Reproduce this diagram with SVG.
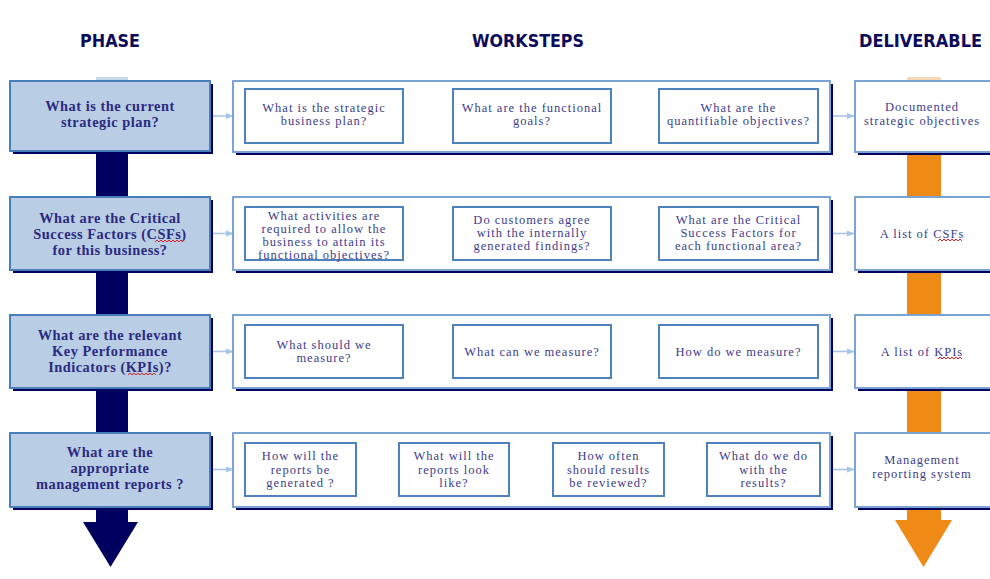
<svg xmlns="http://www.w3.org/2000/svg" width="990" height="579" viewBox="0 0 990 579">
<defs>
<style>
.hdr{font-family:"DejaVu Sans Condensed","DejaVu Sans",sans-serif;font-weight:bold;font-size:17px;fill:#0c0c5c}
.ph{fill:#b9cde5;stroke:#4a7ebb;stroke-width:2}
.sh{fill:#00005e}
.pt{font-family:"Liberation Serif",serif;font-weight:bold;font-size:14.4px;letter-spacing:0.5px;fill:#2a2a80;text-anchor:middle}
.ct{fill:#ffffff;stroke:#7ba3d4;stroke-width:2}
.ib{fill:#ffffff;stroke:#4f81bd;stroke-width:2}
.wt{font-family:"Liberation Serif",serif;font-size:12.5px;letter-spacing:1px;fill:#3c3c8c;text-anchor:middle}
.cn{stroke:#a8c6e4;stroke-width:1.6;fill:none;marker-end:url(#ah)}
.sq{stroke:#e02020;stroke-width:1;fill:none}
</style>
<marker id="ah" markerWidth="8" markerHeight="8" refX="7" refY="4" orient="auto" markerUnits="userSpaceOnUse">
<path d="M0,1 L8,4 L0,7 Z" fill="#a8c6e4"/>
</marker>
</defs>
<rect width="990" height="579" fill="#ffffff"/>

<g id="headers">
<text class="hdr" x="80" y="47" textLength="60" lengthAdjust="spacingAndGlyphs">PHASE</text>
<text class="hdr" x="472" y="47" textLength="112" lengthAdjust="spacingAndGlyphs">WORKSTEPS</text>
<text class="hdr" x="859" y="47" textLength="123" lengthAdjust="spacingAndGlyphs">DELIVERABLE</text>
</g>

<g id="phase-arrow">
<rect x="96" y="77" width="32" height="6" fill="#c8d8ec"/>
<rect x="96" y="150" width="32" height="373" fill="#00005e"/>
<path d="M83,522 L138,522 L110.5,567 Z" fill="#00005e"/>
</g>
<g id="deliverable-arrow">
<rect x="907" y="77" width="34" height="6" fill="#f6d8b4"/>
<rect x="907" y="150" width="34" height="371" fill="#ef8a16"/>
<path d="M895,520 L952,520 L923.5,567 Z" fill="#ef8a16"/>
</g>

<g id="connectors">
<line class="cn" x1="213" y1="116" x2="233" y2="116"/>
<line class="cn" x1="403" y1="116" x2="452" y2="116"/>
<line class="cn" x1="611" y1="116" x2="658" y2="116"/>
<line class="cn" x1="833" y1="116" x2="854" y2="116"/>

<line class="cn" x1="213" y1="233.5" x2="233" y2="233.5"/>
<line class="cn" x1="403" y1="233.5" x2="452" y2="233.5"/>
<line class="cn" x1="611" y1="233.5" x2="658" y2="233.5"/>
<line class="cn" x1="833" y1="233.5" x2="854" y2="233.5"/>

<line class="cn" x1="213" y1="351.5" x2="233" y2="351.5"/>
<line class="cn" x1="403" y1="351.5" x2="452" y2="351.5"/>
<line class="cn" x1="611" y1="351.5" x2="658" y2="351.5"/>
<line class="cn" x1="833" y1="351.5" x2="854" y2="351.5"/>

<line class="cn" x1="213" y1="469.5" x2="233" y2="469.5"/>
<line class="cn" x1="356" y1="469.5" x2="398" y2="469.5"/>
<line class="cn" x1="509" y1="469.5" x2="552" y2="469.5"/>
<line class="cn" x1="664" y1="469.5" x2="706" y2="469.5"/>
<line class="cn" x1="833" y1="469.5" x2="854" y2="469.5"/>
</g>

<!-- Phase boxes -->
<g id="phase1">
<rect class="sh" x="13" y="84" width="200" height="70"/>
<rect class="ph" x="10" y="81" width="200" height="70"/>
<text class="pt" x="110" y="111">What is the current</text>
<text class="pt" x="110" y="127">strategic plan?</text>
</g>
<g id="phase2">
<rect class="sh" x="13" y="200" width="200" height="73"/>
<rect class="ph" x="10" y="197" width="200" height="73"/>
<text class="pt" x="110" y="223">What are the Critical</text>
<text class="pt" x="110" y="239">Success Factors (CSFs)</text>
<text class="pt" x="110" y="255">for this business?</text>
<path class="sq" d="M155,242 l2,-2 l2,2 l2,-2 l2,2 l2,-2 l2,2 l2,-2 l2,2 l2,-2 l2,2 l2,-2 l2,2 l2,-2 l2,2"/>
</g>
<g id="phase3">
<rect class="sh" x="13" y="318" width="200" height="73"/>
<rect class="ph" x="10" y="315" width="200" height="73"/>
<text class="pt" x="110" y="340">What are the relevant</text>
<text class="pt" x="110" y="356">Key Performance</text>
<text class="pt" x="110" y="372">Indicators (KPIs)?</text>
<path class="sq" d="M128,375 l2,-2 l2,2 l2,-2 l2,2 l2,-2 l2,2 l2,-2 l2,2 l2,-2 l2,2 l2,-2 l2,2 l2,-2 l2,2"/>
</g>
<g id="phase4">
<rect class="sh" x="13" y="436" width="200" height="74"/>
<rect class="ph" x="10" y="433" width="200" height="74"/>
<text class="pt" x="110" y="457">What are the</text>
<text class="pt" x="110" y="473">appropriate</text>
<text class="pt" x="110" y="489">management reports ?</text>
</g>

<!-- Workstep containers -->
<g id="worksteps1">
<rect class="sh" x="236" y="84" width="597" height="71"/>
<rect class="ct" x="233" y="81" width="597" height="71"/>
<g id="ws1a"><rect class="ib" x="245" y="89" width="158" height="54"/>
<text class="wt" x="324" y="112">What is the strategic</text>
<text class="wt" x="324" y="125">business plan?</text></g>
<g id="ws1b"><rect class="ib" x="453" y="89" width="158" height="54"/>
<text class="wt" x="532" y="112">What are the functional</text>
<text class="wt" x="532" y="125">goals?</text></g>
<g id="ws1c"><rect class="ib" x="659" y="89" width="159" height="54"/>
<text class="wt" x="738.5" y="112">What are the</text>
<text class="wt" x="738.5" y="125">quantifiable objectives?</text></g>
</g>

<g id="worksteps2">
<rect class="sh" x="236" y="200" width="597" height="73"/>
<rect class="ct" x="233" y="197" width="597" height="73"/>
<g id="ws2a"><rect class="ib" x="245" y="207" width="158" height="53"/>
<text class="wt" x="324" y="220">What activities are</text>
<text class="wt" x="324" y="233">required to allow the</text>
<text class="wt" x="324" y="246">business to attain its</text>
<text class="wt" x="324" y="259">functional objectives?</text></g>
<g id="ws2b"><rect class="ib" x="453" y="207" width="158" height="53"/>
<text class="wt" x="532" y="224">Do customers agree</text>
<text class="wt" x="532" y="237">with the internally</text>
<text class="wt" x="532" y="250">generated findings?</text></g>
<g id="ws2c"><rect class="ib" x="659" y="207" width="159" height="53"/>
<text class="wt" x="738.5" y="224">What are the Critical</text>
<text class="wt" x="738.5" y="237">Success Factors for</text>
<text class="wt" x="738.5" y="250">each functional area?</text></g>
</g>

<g id="worksteps3">
<rect class="sh" x="236" y="318" width="597" height="73"/>
<rect class="ct" x="233" y="315" width="597" height="73"/>
<g id="ws3a"><rect class="ib" x="245" y="325" width="158" height="53"/>
<text class="wt" x="324" y="349">What should we</text>
<text class="wt" x="324" y="362">measure?</text></g>
<g id="ws3b"><rect class="ib" x="453" y="325" width="158" height="53"/>
<text class="wt" x="532" y="356">What can we measure?</text></g>
<g id="ws3c"><rect class="ib" x="659" y="325" width="159" height="53"/>
<text class="wt" x="738.5" y="356">How do we measure?</text></g>
</g>

<g id="worksteps4">
<rect class="sh" x="236" y="436" width="597" height="74"/>
<rect class="ct" x="233" y="433" width="597" height="74"/>
<g id="ws4a"><rect class="ib" x="245" y="443" width="111" height="53"/>
<text class="wt" x="300.5" y="460">How will the</text>
<text class="wt" x="300.5" y="473.5">reports be</text>
<text class="wt" x="300.5" y="487">generated ?</text></g>
<g id="ws4b"><rect class="ib" x="399" y="443" width="110" height="53"/>
<text class="wt" x="454" y="460">What will the</text>
<text class="wt" x="454" y="473.5">reports look</text>
<text class="wt" x="454" y="487">like?</text></g>
<g id="ws4c"><rect class="ib" x="553" y="443" width="111" height="53"/>
<text class="wt" x="608.5" y="460">How often</text>
<text class="wt" x="608.5" y="473.5">should results</text>
<text class="wt" x="608.5" y="487">be reviewed?</text></g>
<g id="ws4d"><rect class="ib" x="707" y="443" width="113" height="53"/>
<text class="wt" x="763.5" y="460">What do we do</text>
<text class="wt" x="763.5" y="473.5">with the</text>
<text class="wt" x="763.5" y="487">results?</text></g>
</g>

<!-- Deliverables -->
<g id="deliverable1">
<rect class="sh" x="858" y="84" width="140" height="71"/>
<rect class="ct" x="855" y="81" width="140" height="71"/>
<text class="wt" x="922" y="111">Documented</text>
<text class="wt" x="922" y="125">strategic objectives</text>
</g>
<g id="deliverable2">
<rect class="sh" x="858" y="200" width="140" height="73"/>
<rect class="ct" x="855" y="197" width="140" height="73"/>
<text class="wt" x="922" y="238">A list of CSFs</text>
<path class="sq" d="M938,241 l2,-2 l2,2 l2,-2 l2,2 l2,-2 l2,2 l2,-2 l2,2 l2,-2 l2,2 l2,-2 l2,2"/>
</g>
<g id="deliverable3">
<rect class="sh" x="858" y="318" width="140" height="73"/>
<rect class="ct" x="855" y="315" width="140" height="73"/>
<text class="wt" x="922" y="356">A list of KPIs</text>
<path class="sq" d="M938,359 l2,-2 l2,2 l2,-2 l2,2 l2,-2 l2,2 l2,-2 l2,2 l2,-2 l2,2 l2,-2 l2,2"/>
</g>
<g id="deliverable4">
<rect class="sh" x="858" y="436" width="140" height="74"/>
<rect class="ct" x="855" y="433" width="140" height="74"/>
<text class="wt" x="922" y="464">Management</text>
<text class="wt" x="922" y="478">reporting system</text>
</g>
</svg>
